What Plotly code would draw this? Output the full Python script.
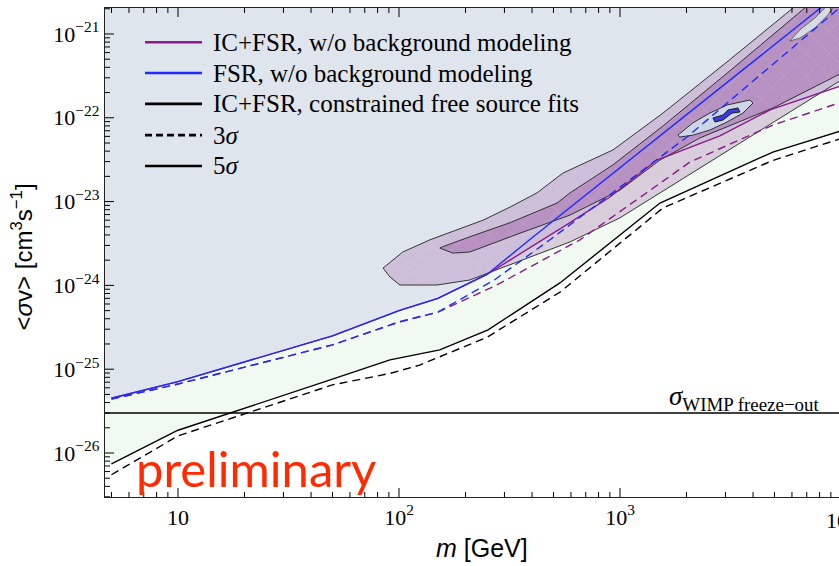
import plotly.graph_objects as go

# ---------------- data ----------------
# upper limits without background modelling, FSR only (5 sigma solid / 3 sigma dashed)
fsr_m_5s = [5, 10, 50, 100, 150, 250, 400, 8040, 10000]
fsr_sv_5s = [4.5e-26, 7.1e-26, 2.5e-25, 5.0e-25, 7.0e-25, 1.35e-24, 3.7e-24, 2.04e-21, 3.2e-21]
fsr_m_3s = [5, 10, 50, 100, 150, 270, 482, 2010, 9590, 10000]
fsr_sv_3s = [4.4e-26, 6.65e-26, 1.95e-25, 3.66e-25, 4.8e-25, 1.16e-24, 3.5e-24, 5.9e-23, 1.93e-21, 2.11e-21]

# upper limits without background modelling, IC+FSR
icfsr_m_5s = [5, 10, 50, 100, 150, 250, 594, 901, 1469, 2831, 4775, 10000]
icfsr_sv_5s = [4.5e-26, 7.1e-26, 2.5e-25, 5.0e-25, 7.0e-25, 1.35e-24, 5.6e-24, 1.135e-23, 3.13e-23, 6.07e-23, 1.24e-22, 2.4e-22]
icfsr_m_3s = [5, 10, 50, 100, 150, 277, 659, 2075, 4925, 10000]
icfsr_sv_3s = [4.4e-26, 6.65e-26, 1.95e-25, 3.66e-25, 4.8e-25, 1.01e-24, 3.5e-24, 2.97e-23, 8.2e-23, 1.53e-22]

# IC+FSR, constrained free source fits
const_m_5s = [5, 10, 50, 91, 153, 253, 535, 1517, 4920, 10000]
const_sv_5s = [7.4e-27, 1.87e-26, 7.6e-26, 1.29e-25, 1.7e-25, 2.95e-25, 1.07e-24, 9.6e-24, 3.9e-23, 7.0e-23]
const_m_3s = [5, 10, 50, 91, 124, 250, 535, 1566, 4920, 10000]
const_sv_3s = [5.5e-27, 1.6e-26, 6.5e-26, 8.9e-26, 1.12e-25, 2.4e-25, 8.3e-25, 8.4e-24, 3.1e-23, 5.65e-23]

# thermal relic cross section
sv_freeze_out = 3e-26

# IC+FSR best-fit regions (outer and inner contour)
outer_m = [84.7, 104, 138, 183, 240, 318, 421, 552, 929, 1566, 3050, 6064, 8500, 12190,
           12190, 9690, 6064, 3050, 1566, 1000, 594, 277, 209, 148.6, 101, 91]
outer_sv = [1.61e-24, 2.5e-24, 3.5e-24, 4.58e-24, 6.0e-24, 8.6e-24, 1.27e-23, 2.19e-23, 4.13e-23,
            1.14e-22, 4.64e-22, 2.04e-21, 4.4e-21, 4.4e-21,
            2.67e-22, 2.67e-22, 1.24e-22, 4.0e-23, 1.34e-23, 6.4e-24, 3.3e-24, 1.53e-24, 1.16e-24,
            1.01e-24, 1.01e-24, 1.26e-24]
inner_m = [153, 158, 209, 318, 519, 594, 929, 1566, 3050, 6064, 9700, 12190,
           12190, 9690, 4925, 2303, 1517, 1000, 594, 353, 209, 175]
inner_sv = [2.79e-24, 2.9e-24, 3.8e-24, 5.6e-24, 9.6e-24, 1.27e-23, 2.74e-23, 8.0e-23, 3.4e-22,
            1.55e-21, 4.4e-21, 4.4e-21,
            3.3e-22, 3.24e-22, 1.31e-22, 5.76e-23, 3.13e-23, 1.37e-23, 6.9e-24, 4.2e-24, 2.5e-24, 2.43e-24]

# FSR best-fit region (closed contour and its core)
fsr_reg_m = [1828, 2138, 2553, 3050, 3874, 4000, 3602, 3050, 2553, 2138, 1867]
fsr_reg_sv = [6.2e-23, 8.7e-23, 1.14e-22, 1.42e-22, 1.63e-22, 1.5e-22, 1.14e-22, 8.9e-23, 7.15e-23, 6.2e-23, 5.9e-23]
fsr_core_m = [2635, 2924, 3080, 3420, 3490, 3213, 2924, 2690]
fsr_core_sv = [9.95e-23, 1.08e-22, 1.24e-22, 1.31e-22, 1.17e-22, 1.14e-22, 9.4e-23, 8.9e-23]
fsr_sliver_m = [5875, 6520, 7620, 8725, 9400, 10420, 8725, 7620, 6520]
fsr_sliver_sv = [8.25e-22, 1.12e-21, 1.55e-21, 2.22e-21, 3.35e-21, 3.35e-21, 1.69e-21, 1.18e-21, 8.95e-22]

legend_labels = ["IC+FSR, w/o background modeling", "FSR, w/o background modeling",
                 "IC+FSR, constrained free source fits", "3<i>σ</i>", "5<i>σ</i>"]

# tick positions: decades get labels, the digits in between get short ticks
x_decades = [10, 100, 1000, 10000]
x_labels = ["10", "10<sup>2</sup>", "10<sup>3</sup>", "10<sup>4</sup>"]
y_decades = [1e-26, 1e-25, 1e-24, 1e-23, 1e-22, 1e-21]
y_labels = ["10<sup>−26</sup>", "10<sup>−25</sup>", "10<sup>−24</sup>",
            "10<sup>−23</sup>", "10<sup>−22</sup>", "10<sup>−21</sup>"]
x_minor = [d * k for d in [1, 10, 100, 1000] for k in range(2, 10)]
y_minor = [d * k for d in [1e-27, 1e-26, 1e-25, 1e-24, 1e-23, 1e-22, 1e-21] for k in range(2, 10)]

# ---------------- styles ----------------
PURPLE = "#8b1a8b"
BLUE = "#1f2bff"
BG_EXCL = "#dfe5ec"
BG_GREEN = "#f0faf0"
legend_colors = [PURPLE, BLUE, "black", "black", "black"]
legend_dash = ["solid", "solid", "solid", "dash", "solid"]
SERIF = "Liberation Serif"
SANS = "Liberation Sans"
M_EDGE = 4.5  # fills run out to the left frame
X_RANGE = [0.6697, 3.991]
Y_RANGE = [-26.525, -20.69]
PLOT_W, PLOT_H = 734, 489  # plot area in pixels

fig = go.Figure()


def area(xs, ys, color, outline=None, width=0.9, pattern=None):
    fig.add_trace(go.Scatter(
        x=xs + xs[:1], y=ys + ys[:1], mode="lines", fill="toself", fillcolor=color,
        line=dict(color=outline or "rgba(0,0,0,0)", width=width if outline else 0),
        fillpattern=pattern, hoverinfo="skip", showlegend=False))


def curve(xs, ys, color, dash="solid", width=1.4):
    fig.add_trace(go.Scatter(x=xs, y=ys, mode="lines",
                             line=dict(color=color, dash=dash, width=width),
                             hoverinfo="skip", showlegend=False))


# excluded region above the IC+FSR limit, allowed band down to the constrained limit
upper_x = [M_EDGE] + icfsr_m_5s
upper_y = icfsr_sv_5s[:1] + icfsr_sv_5s
lower_x = [M_EDGE] + const_m_5s
lower_y = const_sv_5s[:1] + const_sv_5s
area(upper_x + [10000, M_EDGE], upper_y + [1e-20, 1e-20], BG_EXCL)
area(upper_x + lower_x[::-1], upper_y + lower_y[::-1], BG_GREEN)

mesh = dict(shape="x", fgcolor="rgba(255,255,255,0.35)", size=16, solidity=0.06)
area(outer_m, outer_sv, "rgba(170,120,180,0.35)", outline="#222222",
     pattern=dict(mesh, bgcolor="rgba(170,120,180,0.35)"))
area(inner_m, inner_sv, "rgba(150,80,160,0.42)", outline="#222222",
     pattern=dict(mesh, bgcolor="rgba(150,80,160,0.42)"))
area(fsr_reg_m, fsr_reg_sv, "#cdd7e8", outline="#222222")
area(fsr_core_m, fsr_core_sv, "#3b3bd9", outline="#111111")
area(fsr_sliver_m, fsr_sliver_sv, "#d6dce6", outline="#444444", width=0.7)

curve([4, 20000], [sv_freeze_out, sv_freeze_out], "black", width=1.3)
curve(const_m_3s, const_sv_3s, "black", dash="8px,5px")
curve(const_m_5s, const_sv_5s, "black")
curve(icfsr_m_3s, icfsr_sv_3s, PURPLE, dash="8px,5px")
curve(icfsr_m_5s, icfsr_sv_5s, PURPLE)
curve(fsr_m_3s, fsr_sv_3s, BLUE, dash="8px,5px")
curve(fsr_m_5s, fsr_sv_5s, BLUE)

# ---------------- frame ticks (bottom + top, left) ----------------
tick_line = dict(color="black", width=1)
x_lo, x_hi = 10 ** X_RANGE[0], 10 ** X_RANGE[1]
y_lo, y_hi = 10 ** Y_RANGE[0], 10 ** Y_RANGE[1]
for vals, length in ((x_decades, 9), (x_minor, 5)):
    for v in vals:
        if x_lo < v < x_hi:
            h = length / PLOT_H
            fig.add_shape(type="line", xref="x", yref="paper", x0=v, x1=v, y0=0, y1=h,
                          line=tick_line, layer="above")
            fig.add_shape(type="line", xref="x", yref="paper", x0=v, x1=v, y0=1, y1=1 - h,
                          line=tick_line, layer="above")
for vals, length in ((y_decades, 9), (y_minor, 5)):
    for v in vals:
        if y_lo < v < y_hi:
            fig.add_shape(type="line", xref="paper", yref="y", x0=0, x1=length / PLOT_W, y0=v, y1=v,
                          line=tick_line, layer="above")

# ---------------- legend (drawn by hand) ----------------
row_y = [0.930, 0.867, 0.804, 0.740, 0.677]
for lab, col, dsh, yy in zip(legend_labels, legend_colors, legend_dash, row_y):
    fig.add_shape(type="line", xref="paper", yref="paper", x0=0.0545, x1=0.1322, y0=yy, y1=yy,
                  line=dict(color=col, width=2.6, dash="7px,4px" if dsh == "dash" else "solid"))
    fig.add_annotation(xref="paper", yref="paper", x=0.1444, y=yy, xanchor="left", yanchor="middle",
                       text=lab, showarrow=False, font=dict(family=SERIF, size=25, color="black"))

fig.add_annotation(xref="paper", yref="paper", x=0.7657, y=0.2025, xanchor="left", yanchor="middle",
                   text="<i>σ</i><sub>WIMP freeze−out</sub>", showarrow=False,
                   font=dict(family=SERIF, size=27, color="black"))

fig.add_annotation(xref="paper", yref="paper", x=0.0395, y=0.059, xanchor="left", yanchor="middle",
                   text="preliminary", showarrow=False,
                   font=dict(family="Lato", size=49, color="#ff2a00"))

fig.add_annotation(xref="paper", yref="paper", x=0.514, y=-0.104, xanchor="center", yanchor="middle",
                   text="<i>m</i> [GeV]", showarrow=False, font=dict(family=SANS, size=25, color="black"))
fig.add_annotation(xref="paper", yref="paper", x=-0.113, y=0.49, xanchor="center", yanchor="middle",
                   textangle=-90, text="&lt;<i>σ</i>v&gt; [cm<sup>3</sup>s<sup>−1</sup>]", showarrow=False,
                   font=dict(family=SANS, size=24, color="black"))

# partially visible 10^4 label at the right edge
fig.add_annotation(xref="paper", yref="paper", x=1.003, y=-0.012, xanchor="center", yanchor="top",
                   text="10<sup>4</sup>", showarrow=False, font=dict(family=SERIF, size=22, color="black"))

axis_common = dict(type="log", showgrid=False, zeroline=False, ticks="",
                   showline=True, linecolor="#222222", linewidth=1.3,
                   tickfont=dict(family=SERIF, size=22, color="black"))
fig.update_xaxes(range=X_RANGE, tickvals=x_decades, ticktext=x_labels, mirror=True, **axis_common)
fig.update_yaxes(range=Y_RANGE, tickvals=y_decades, ticktext=y_labels, mirror=False, **axis_common)

fig.update_layout(width=839, height=566, margin=dict(l=105, r=0, t=8, b=69),
                  plot_bgcolor="white", paper_bgcolor="white", showlegend=False)

fig.write_html("out.html")
